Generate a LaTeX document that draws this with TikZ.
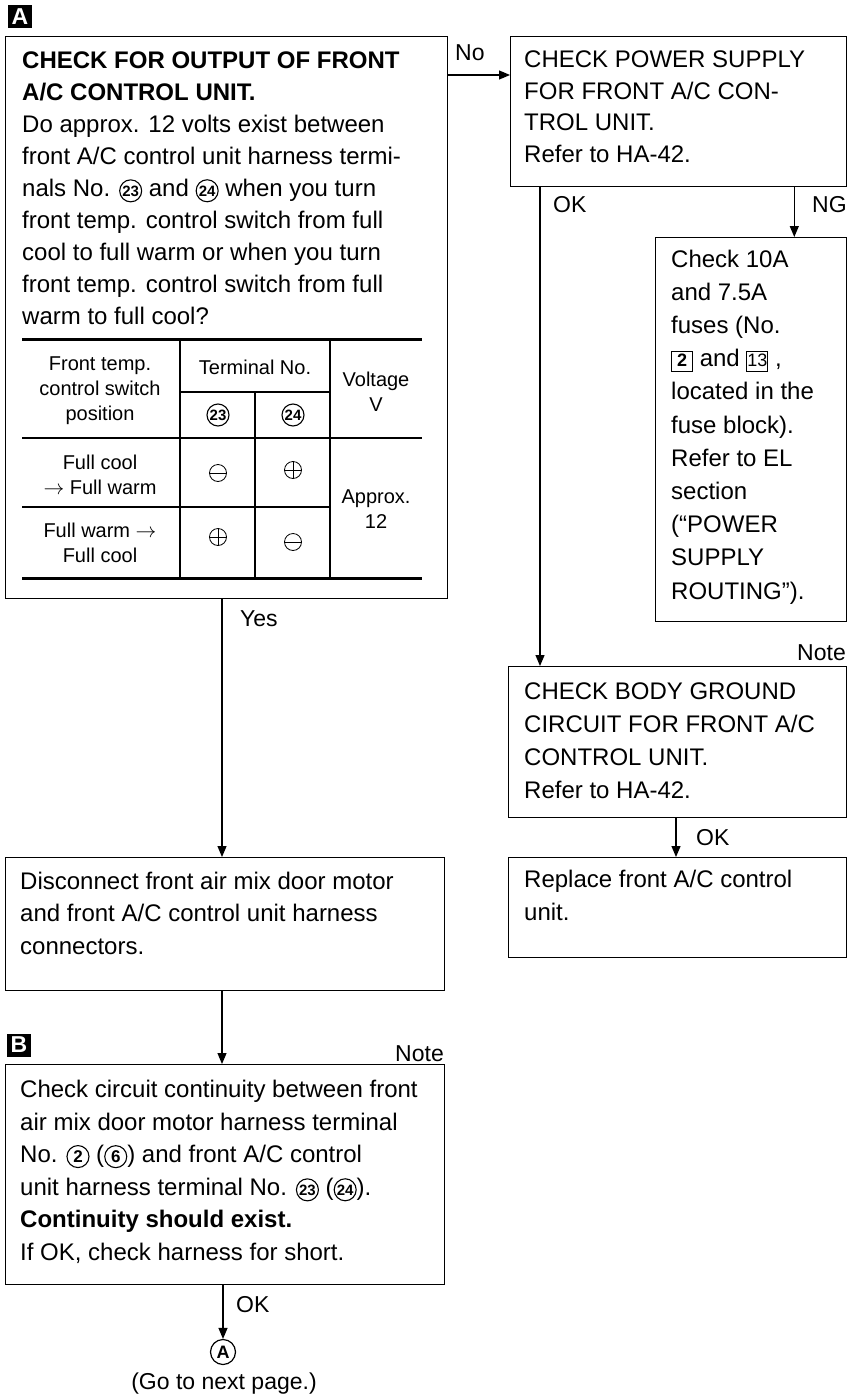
\documentclass[tikz,border=0pt]{standalone}
\usepackage{fontspec}
\setmainfont{Liberation Sans}
\usetikzlibrary{arrows.meta,calc}
\newcommand\cnum[2][15]{\tikz[baseline=(cc.base)]\node[draw,circle,line width=1.1pt,inner sep=0pt,minimum size=22pt,font=\bfseries\fontsize{#1}{#1}\selectfont] (cc) {#2};}
\newcommand\bnum[1]{\tikz[baseline=(bb.base)]\node[draw,line width=0.9pt,inner sep=0pt,minimum width=21pt,minimum height=20pt,text depth=2pt,font=\fontsize{18}{18}\selectfont] (bb) {#1};}
\begin{document}
\begin{tikzpicture}[x=1pt,y=-1pt,
  box/.style={draw, line width=1.3pt, inner sep=0pt, anchor=north west},
  txt/.style={anchor=base west, align=left, inner sep=0pt, font=\fontsize{24}{32.5}\selectfont},
  lbl/.style={anchor=base west, inner sep=0pt, font=\fontsize{23}{23}\selectfont},
  cell/.style={align=center, inner sep=0pt, font=\fontsize{20}{25}\selectfont},
  pmc/.style={draw, circle, line width=0.8pt, inner sep=0pt, minimum size=17pt},
  minus/.style={pmc, path picture={\draw[line width=0.8pt] (path picture bounding box.west) -- (path picture bounding box.east);}},
  plus/.style={pmc, path picture={\draw[line width=0.8pt] (path picture bounding box.west) -- (path picture bounding box.east) (path picture bounding box.north) -- (path picture bounding box.south);}},
  badge/.style={fill=black, text=white, inner sep=0pt, minimum width=24pt, minimum height=23pt, font=\bfseries\fontsize{23}{23}\selectfont},
  arr/.style={draw, line width=1.2pt, -{Triangle[length=11pt,width=9pt]}}]
\useasboundingbox (0,0) rectangle (852,1397);
\fill[white] (0,0) rectangle (852,1397);

% badges
\node[badge] (badgeA) at (20,17) {A};
\node[badge] (badgeB) at (19,1045) {B};

% boxes
\node[box, minimum width=442pt, minimum height=562pt] (b1) at (5,36) {};
\node[box, minimum width=336pt, minimum height=150pt] (b2) at (510,36) {};
\node[box, minimum width=191pt, minimum height=384pt] (b3) at (655,237) {};
\node[box, minimum width=338pt, minimum height=151pt] (b5) at (508,666) {};
\node[box, minimum width=338pt, minimum height=100pt] (b4) at (508,857) {};
\node[box, minimum width=439pt, minimum height=133pt] (b6) at (5,857) {};
\node[box, minimum width=439pt, minimum height=220pt] (b7) at (5,1064) {};
\node[draw, circle, line width=1.2pt, inner sep=0pt, minimum size=25pt, font=\bfseries\fontsize{18}{18}\selectfont] (cA) at (223,1352) {A};
\node[inner sep=0pt, font=\fontsize{23}{23}\selectfont, anchor=base] (next) at (224,1389) {(Go to next page.)};

% texts (base anchor = baseline of last line)
\node[txt, font=\fontsize{24}{32}\selectfont] (t1) at (22,324) {\textbf{CHECK FOR OUTPUT OF FRONT}\\
\textbf{A/C CONTROL UNIT.}\\
Do approx. 12 volts exist between\\
front A/C control unit harness termi-\\
nals No. \cnum{23} and \cnum{24} when you turn\\
front temp. control switch from full\\
cool to full warm or when you turn\\
front temp. control switch from full\\
warm to full cool?};
\node[txt, font=\fontsize{24}{31.5}\selectfont] (t2) at (524,162) {CHECK POWER SUPPLY\\FOR FRONT A/C CON-\\TROL UNIT.\\Refer to HA-42.};
\node[txt, font=\fontsize{24}{33.2}\selectfont] (t3) at (671,599) {Check 10A\\and 7.5A\\fuses (No.\\\bnum{\textbf{2}} and \bnum{13} ,\\located in the\\fuse block).\\Refer to EL\\section\\(“POWER\\SUPPLY\\ROUTING”).};
\node[txt, font=\fontsize{24}{33}\selectfont] (t5) at (524,798) {CHECK BODY GROUND\\CIRCUIT FOR FRONT A/C\\CONTROL UNIT.\\Refer to HA-42.};
\node[txt] (t4) at (524,920) {Replace front A/C control\\unit.};
\node[txt] (t6) at (20,954) {Disconnect front air mix door motor\\and front A/C control unit harness\\connectors.};
\node[txt] (t7) at (20,1260) {Check circuit continuity between front\\air mix door motor harness terminal\\No. \cnum[17]{2} (\cnum[17]{6}) and front A/C control\\unit harness terminal No. \cnum{23} (\cnum{24}).\\\textbf{Continuity should exist.}\\If OK, check harness for short.};

% table
\draw[line width=3pt] (22,339) -- (422,339);
\draw[line width=3pt] (22,578) -- (422,578);
\draw[line width=1.1pt] (180,339) -- (180,578);
\draw[line width=1.1pt] (255,392) -- (255,578);
\draw[line width=1.1pt] (330,339) -- (330,578);
\draw[line width=1.1pt] (180,392) -- (330,392);
\draw[line width=1.1pt] (22,438) -- (422,438);
\draw[line width=1.1pt] (22,507) -- (330,507);
\node[cell] (h1) at (100,391) {Front temp.\\control switch\\position};
\node[cell] (h2) at (255,367) {Terminal No.};
\node[cell] (h3) at (376,392) {Voltage\\V};
\node (h23) at (218,415) {\cnum{23}};
\node (h24) at (293,415) {\cnum{24}};
\node[cell] (r1) at (100,475) {Full cool\\$\rightarrow$ Full warm};
\node[minus] (r1a) at (218,473) {};
\node[plus] (r1b) at (293,470) {};
\node[cell] (v) at (376,509) {Approx.\\12};
\node[cell] (r2) at (100,543) {Full warm $\rightarrow$\\Full cool};
\node[plus] (r2a) at (218,537) {};
\node[minus] (r2b) at (293,542) {};

% connector start points
\coordinate (sNo) at ($(b1.north east)+(0,39)$);
\coordinate (sOK1) at ($(b2.south west)+(30,0)$);
\coordinate (sNG) at ($(b2.south east)+(-53,0)$);
\coordinate (sOK2) at ($(b5.south west)+(168,0)$);
\coordinate (sYes) at ($(b1.south west)+(217,0)$);
\coordinate (sD) at ($(b6.south west)+(217,0)$);
\coordinate (sOK3) at ($(b7.south west)+(218,0)$);

% connectors
\draw[arr] (sNo) -- (sNo -| b2.west);
\node[lbl] (lNo) at (455,60) {No};
\draw[arr] (sOK1) -- (sOK1 |- b5.north);
\node[lbl] (lOK1) at (553,212) {OK};
\draw[arr] (sNG) -- (sNG |- b3.north);
\node[lbl] (lNG) at (812,212) {NG};
\node[lbl, anchor=base east] (note1) at (846,660) {Note};
\draw[arr] (sOK2) -- (sOK2 |- b4.north);
\node[lbl] (lOK2) at (696,845) {OK};
\draw[arr] (sYes) -- (sYes |- b6.north);
\node[lbl] (lYes) at (240,626) {Yes};
\draw[arr] (sD) -- (sD |- b7.north);
\node[lbl, anchor=base east] (note2) at (444,1061) {Note};
\draw[arr] (sOK3) -- (sOK3 |- cA.north);
\node[lbl] (lOK3) at (236,1312) {OK};
\end{tikzpicture}
\end{document}
